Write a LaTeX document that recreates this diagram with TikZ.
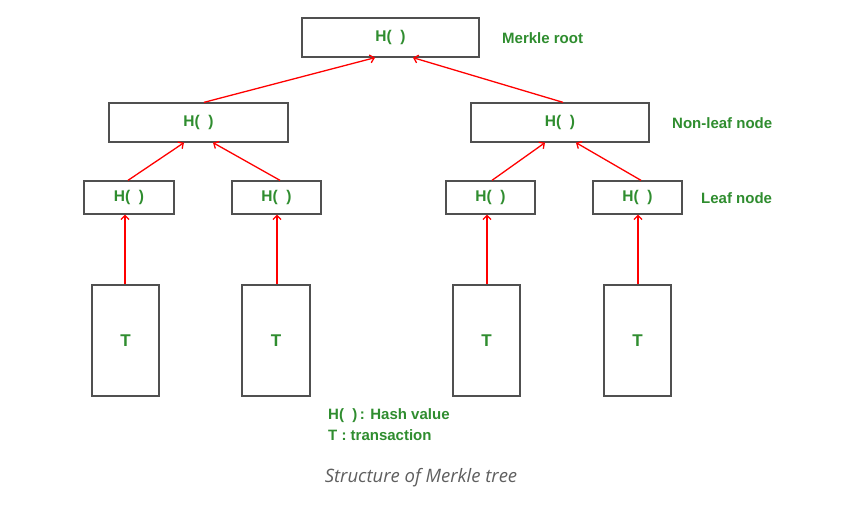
\documentclass[tikz,border=0pt]{standalone}
\usepackage{fontspec}
\setmainfont{Liberation Sans}
\newfontfamily\capfont{Open Sans}
\usetikzlibrary{arrows.meta}
\definecolor{gtxt}{RGB}{47,141,47}
\definecolor{bord}{RGB}{80,80,80}
\definecolor{capgray}{RGB}{95,95,95}
\begin{document}
\begin{tikzpicture}[x=1pt,y=-1pt,
  hbox/.style={draw=bord,line width=1.3pt,fill=white,inner sep=0pt,text=gtxt,font=\fontsize{15.5}{17}\selectfont\bfseries},
  tbox/.style={hbox,minimum height=111pt,font=\fontsize{17}{19}\selectfont\bfseries},
  lbl/.style={text=gtxt,font=\fontsize{15}{17}\selectfont\bfseries,anchor=west,inner sep=0pt},
  leg/.style={lbl,font=\fontsize{15}{17}\selectfont\bfseries},
  arr/.style={red,line width=1.3pt,-{Straight Barb[length=4pt,width=8pt]}}]
\useasboundingbox[fill=white] (0,0) rectangle (855,505);
% root
\node[hbox,minimum width=177pt,minimum height=39pt] (root) at (390.5,37.5) {\raisebox{-1.5pt}{H(\;\;)}};
% non-leaf
\node[hbox,minimum width=179pt,minimum height=39pt] (nl1) at (198.5,122.5) {\raisebox{-1.5pt}{H(\;\;)}};
\node[hbox,minimum width=178pt,minimum height=39pt] (nl2) at (560,122.5) {\raisebox{-1.5pt}{H(\;\;)}};
% leaf
\node[hbox,minimum width=90pt,minimum height=33pt] (l1) at (129,197.5) {\raisebox{-1.5pt}{H(\;\;)}};
\node[hbox,minimum width=89pt,minimum height=33pt] (l2) at (276.5,197.5) {\raisebox{-1.5pt}{H(\;\;)}};
\node[hbox,minimum width=89pt,minimum height=33pt] (l3) at (490.5,197.5) {\raisebox{-1.5pt}{H(\;\;)}};
\node[hbox,minimum width=89pt,minimum height=33pt] (l4) at (637.5,197.5) {\raisebox{-1.5pt}{H(\;\;)}};
% transactions
\node[tbox,minimum width=67pt] (t1) at (125.5,340.5) {T};
\node[tbox,minimum width=68pt] (t2) at (276,340.5) {T};
\node[tbox,minimum width=67pt] (t3) at (486.5,340.5) {T};
\node[tbox,minimum width=67pt] (t4) at (637.5,340.5) {T};
% labels
\node[lbl] (lr) at (502,38.5) {Merkle root};
\node[lbl] (lnl) at (672,123.5) {Non-leaf node};
\node[lbl] (ll) at (701,198.5) {Leaf node};
\node[leg] (leg1) at (328,416) {H(\;\;)\,: Hash value};
\node[leg] (leg2) at (328,435) {T : transaction};
\node[text=capgray,font=\capfont\itshape\fontsize{18.5}{20}\selectfont,inner sep=0pt] (cap) at (421,478) {Structure of Merkle tree};
% arrows
\draw[arr] (nl1.north -| 204,0) -- (root.south -| 375,0);
\draw[arr] (nl2.north -| 563,0) -- (root.south -| 413,0);
\draw[arr] (l1.north -| 128,0) -- (nl1.south -| 184,0);
\draw[arr] (l2.north -| 280,0) -- (nl1.south -| 213,0);
\draw[arr] (l3.north -| 492,0) -- (nl2.south -| 545,0);
\draw[arr] (l4.north -| 641,0) -- (nl2.south -| 576,0);
\draw[arr] (t1.north -| 125,0) -- (l1.south -| 125,0);
\draw[arr] (t2.north -| 277,0) -- (l2.south -| 277,0);
\draw[arr] (t3.north -| 487,0) -- (l3.south -| 487,0);
\draw[arr] (t4.north -| 638,0) -- (l4.south -| 638,0);
\end{tikzpicture}
\end{document}
